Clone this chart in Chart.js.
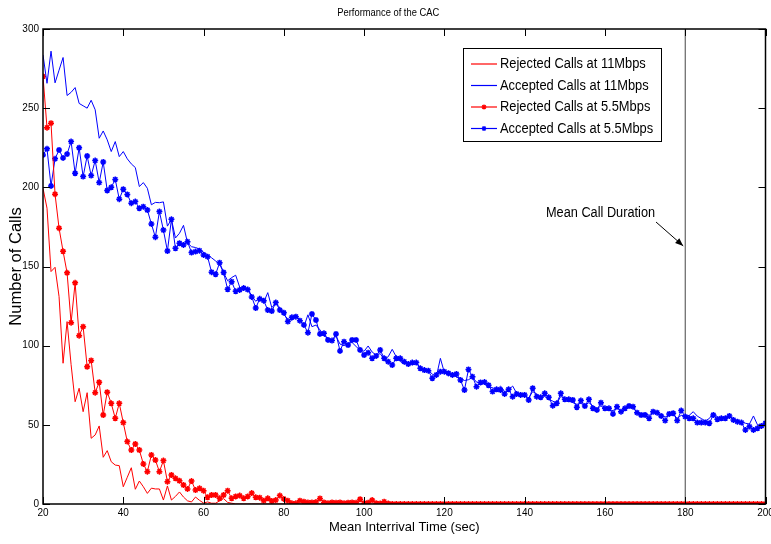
<!DOCTYPE html>
<html>
<head>
<meta charset="utf-8">
<script src="https://cdn.jsdelivr.net/npm/chart.js@4.4.1/dist/chart.umd.min.js"></script>
<style>
html,body{margin:0;padding:0;background:#fff;}
#wrap{width:771px;height:544px;position:relative;}
</style>
</head>
<body>
<div id="wrap"><canvas id="c" width="771" height="544"></canvas></div>
<script>
// ---- DATA ----
const chartTitle = "Performance of the CAC";
const xTitle = "Mean Interrival Time (sec)";
const yTitle = "Number of Calls";
const annotationText = "Mean Call Duration";
const meanCallDuration = 180;
const xTicks = [20, 40, 60, 80, 100, 120, 140, 160, 180, 200];
const yTicks = [0, 50, 100, 150, 200, 250, 300];
const seriesNames = ["Rejected Calls at 11Mbps", "Accepted Calls at 11Mbps", "Rejected Calls at 5.5Mbps", "Accepted Calls at 5.5Mbps"];

// interarrival times 20..200 step 1
const interarrival = Array.from({length: 181}, (_, i) => 20 + i);

const rejected11 = [
199.4,186.8,146.8,149.5,131,88.9,115.2,88,64.6,73.1,
58.3,70.3,41.5,43.6,49.3,29.5,33.7,26.7,24.6,24.2,
10.9,16.9,22.9,9.3,14.5,10.9,6.7,10,9.5,9.5,
2.5,11.4,2.5,4.8,7.6,4.4,2,1.3,4.4,2.3,
0.6,1.3,0.5,0.5,2,3.4,1,0.5,0,0,
0,0,0,0,0,0,0,0,0,0,
0,0,0,0,0,0,0,0,0,0,
0,0,0,0,0,0,0,0,0,0,
0,0,0,0,0,0,0,0,0,0,
0,0,0,0,0,0,0,0,0,0,
0,0,0,0,0,0,0,0,0,0,
0,0,0,0,0,0,0,0,0,0,
0,0,0,0,0,0,0,0,0,0,
0,0,0,0,0,0,0,0,0,0,
0,0,0,0,0,0,0,0,0,0,
0,0,0,0,0,0,0,0,0,0,
0,0,0,0,0,0,0,0,0,0,
0,0,0,0,0,0,0,0,0,0,
0
];

const accepted11 = [
283.6,265.7,286,266,274,282,258,260,263,253,
251.5,250,255,249,231,235.6,230,222.6,228.9,219.4,
222.6,218,214.8,212.5,200.5,203,199.4,189,190.5,190.3,
190.8,175.5,179.8,168,171,176,165,162.5,162,161,
159,157.5,155.5,153.5,151.5,146,141,143,144.5,137,
135.5,136,131.5,128,130.5,127.5,133.5,124,127,124,
119.5,117,116,118.5,116.5,112,119.5,112,113,110,
106,105,103,106,101,100,101.5,102,99.5,97,
96.5,99.8,96,94,95,91.5,93,97.7,93,90,
88.5,89.5,88,88.5,86.5,84,84.5,82,80.5,92,
83,81,82.5,80,79.5,78,78.5,80,77,76.5,
76,74,73.5,72,74.5,71,72,74.5,70,69,
68.5,67,71,69.5,67,68,66,65,63.5,68,
66.5,65,64,63,63.5,62.5,64,62,60,62,
60,59.5,59,60.5,59,60,62,60.5,58,57,
57.5,56,58,57,56,55,56,57,54,56,
55.5,56,58.3,55.5,54,52.5,54,57.5,55,54.5,
55,55,54,52.5,52,51,50.5,55.6,50,50,
51
];

const rejected55 = [
270,237.7,240.5,195.7,174.2,159.6,146,114.5,139.7,106.3,
112,86.7,90.7,70.3,76.9,56.2,70.6,63.6,54.1,63.6,
51.4,39.4,34.1,37.9,34.1,25.3,20.4,31,27.8,20.4,
27.4,14.1,18.3,16.2,14.7,12,9.5,14.5,8.8,9.9,
8.4,4.2,5.7,5.7,3.6,5.7,8.4,3.6,4.8,5.3,
3.6,4.8,6.9,4.2,4,2.1,3.6,1.9,2.5,5.3,
3.2,2.1,0.4,0.4,2.1,1.5,1,1,1.2,3.5,
1,0.5,1,0.8,1,0.5,0.8,1,0.8,3,
0.5,0.8,2.5,0.5,0.3,1.5,0.3,0,0,0,
0,0,0,0,0,0,0,0,0,0,
0,0,0,0,0,0,0,0,0,0,
0,0,0,0,0,0,0,0,0,0,
0,0,0,0,0,0,0,0,0,0,
0,0,0,0,0,0,0,0,0,0,
0,0,0,0,0,0,0,0,0,0,
0,0,0,0,0,0,0,0,0,0,
0,0,0,0,0,0,0,0,0,0,
0,0,0,0,0,0,0,0,0,0,
0
];

const accepted55 = [
220.5,224.3,200.9,218,223.6,218.6,221,228.9,208.9,225,
206.8,219.8,207.4,216.9,203,216,198,200,205,192.5,
198.8,195.5,190,191,186.8,187.8,185.7,176.9,168.5,184.7,
173,159.8,179.8,161.5,164.7,163.6,165.7,158.8,159.4,160,
157.3,156.2,146.4,145.1,152.4,146.2,135.6,140.4,134.3,135.2,
136.4,135.4,130.8,123.8,129.6,128.4,122.5,121.9,127.2,122.5,
120.8,115.2,117.9,118.3,115.8,113.1,108.2,120,116.2,107.4,
107.8,103.6,103.2,107.4,96.7,102.5,100.4,103.6,103.6,97.3,
94.1,95.6,92,93.5,97.3,92,89.9,87.8,92,92,
89.9,88.4,89.3,89.3,85.7,84.6,84.2,79.4,81.5,83.6,
83.6,82.6,81.5,82.1,78.3,72,85,80.4,74.1,76.8,
77,75,71,72.4,72,69.5,72.4,67.8,69.5,68.9,
68.9,65.7,73.1,67.8,67.4,69.9,67.4,62.1,63.6,69.9,
66.1,66.1,65.7,61.1,65.3,61.9,66.1,60.4,59.4,64,
60.4,60.4,56.9,61.5,58.3,60.4,61.9,61.5,57.7,56.2,
56.2,54.1,58.3,57.7,55.6,52.7,56.9,57.3,52.7,59,
55.2,54.1,54.1,51.4,51.4,51.4,51,56.2,53.5,54.1,
54.1,55.6,53.1,52,51.4,46.8,48.9,46.8,47.8,49.3,
51
];

// ---- STYLE ----
const RED = '#ff0000';
const BLUE = '#0000ff';
const FONT = '"Liberation Sans", Arial, sans-serif';

function pts(vals){ return vals.map((v,i)=>({x: interarrival[i], y: v})); }

const datasets = [
  {label: seriesNames[0], data: pts(rejected11), borderColor: RED, backgroundColor: RED, borderWidth: 1, pointRadius: 0, marker: false},
  {label: seriesNames[1], data: pts(accepted11), borderColor: BLUE, backgroundColor: BLUE, borderWidth: 1, pointRadius: 0, marker: false},
  {label: seriesNames[2], data: pts(rejected55), borderColor: RED, backgroundColor: RED, borderWidth: 1, pointRadius: 3, pointStyle: 'star', pointBorderWidth: 1.5, marker: true},
  {label: seriesNames[3], data: pts(accepted55), borderColor: BLUE, backgroundColor: BLUE, borderWidth: 1, pointRadius: 3, pointStyle: 'star', pointBorderWidth: 1.5, marker: true},
  {label: 'mean', data: [{x: meanCallDuration, y: yTicks[0]}, {x: meanCallDuration, y: yTicks[yTicks.length-1]}], borderColor: '#444', borderWidth: 1, pointRadius: 0, marker: false, isRef: true}
];

function narrowText(ctx, text, x, y, size, sx){
  ctx.save();
  ctx.font = size + 'px ' + FONT;
  ctx.translate(x, y);
  ctx.scale(sx, 1);
  ctx.fillText(text, 0, 0);
  ctx.restore();
}

const framePlugin = {
  id: 'frame',
  afterDatasetsDraw(chart){
    const ctx = chart.ctx;
    const a = chart.chartArea;
    const xs = chart.scales.x, ys = chart.scales.y;
    ctx.save();
    ctx.strokeStyle = '#000';
    ctx.lineWidth = 1.5;
    ctx.strokeRect(a.left, a.top, a.right - a.left, a.bottom - a.top);
    ctx.lineWidth = 1;
    const tl = 7;
    xTicks.forEach(v => {
      const px = Math.round(xs.getPixelForValue(v)) + 0.5;
      ctx.beginPath();
      ctx.moveTo(px, a.bottom); ctx.lineTo(px, a.bottom - tl);
      ctx.moveTo(px, a.top); ctx.lineTo(px, a.top + tl);
      ctx.stroke();
    });
    yTicks.forEach(v => {
      const py = Math.round(ys.getPixelForValue(v)) + 0.5;
      ctx.beginPath();
      ctx.moveTo(a.left, py); ctx.lineTo(a.left + tl, py);
      ctx.moveTo(a.right, py); ctx.lineTo(a.right - tl, py);
      ctx.stroke();
    });

    // title
    ctx.fillStyle = '#000';
    ctx.textAlign = 'center';
    ctx.textBaseline = 'middle';
    narrowText(ctx, chartTitle, (a.left + a.right) / 2 - 16, 13, 11, 0.85);

    // annotation with arrow
    const tipX = xs.getPixelForValue(meanCallDuration) - 2;
    const tipY = ys.getPixelForValue(163);
    ctx.textAlign = 'left';
    narrowText(ctx, annotationText, 546, 213, 14, 0.91);
    const sx = 656, sy = 222;
    ctx.beginPath(); ctx.moveTo(sx, sy); ctx.lineTo(tipX, tipY); ctx.stroke();
    const ang = Math.atan2(tipY - sy, tipX - sx);
    const L = 8, W = 3.2;
    ctx.beginPath();
    ctx.moveTo(tipX, tipY);
    ctx.lineTo(tipX - L*Math.cos(ang) + W*Math.sin(ang), tipY - L*Math.sin(ang) - W*Math.cos(ang));
    ctx.lineTo(tipX - L*Math.cos(ang) - W*Math.sin(ang), tipY - L*Math.sin(ang) + W*Math.cos(ang));
    ctx.closePath(); ctx.fill();

    // legend
    const bx = 463.5, by = 48.5, bw = 198, bh = 93;
    ctx.fillStyle = '#fff';
    ctx.fillRect(bx, by, bw, bh);
    ctx.strokeStyle = '#000';
    ctx.lineWidth = 1;
    ctx.strokeRect(bx, by, bw, bh);
    const rows = [64, 85.5, 107, 128.5];
    chart.data.datasets.slice(0, 4).forEach((ds, i) => {
      const y = rows[i];
      ctx.strokeStyle = ds.borderColor;
      ctx.fillStyle = ds.borderColor;
      ctx.lineWidth = 1.2;
      ctx.beginPath(); ctx.moveTo(471, y); ctx.lineTo(497, y); ctx.stroke();
      if (ds.marker) {
        Chart.helpers.drawPoint(ctx, {pointStyle: 'star', radius: 2.5, borderWidth: 1.3, rotation: 0}, 484, y);
      }
      ctx.fillStyle = '#000';
      ctx.textAlign = 'left';
      ctx.textBaseline = 'middle';
      narrowText(ctx, ds.label, 500, y + 0.5, 14, 0.92);
    });
    ctx.restore();
  }
};

new Chart(document.getElementById('c'), {
  type: 'line',
  data: {datasets},
  options: {
    responsive: false,
    animation: false,
    devicePixelRatio: 1,
    layout: {padding: {top: 29, right: 4, left: 0, bottom: 0}},
    plugins: {legend: {display: false}, tooltip: {enabled: false}, title: {display: false}},
    elements: {line: {tension: 0}},
    scales: {
      x: {
        type: 'linear', min: 20, max: 200,
        afterBuildTicks: s => { s.ticks = xTicks.map(v => ({value: v})); },
        afterFit: s => { s.height = 40; s.paddingLeft = 0; s.paddingRight = 0; },
        grid: {display: false, drawTicks: false},
        border: {display: false},
        ticks: {autoSkip: false, maxRotation: 0, padding: 3, color: '#000', font: {family: FONT, size: 10}},
        title: {display: true, text: xTitle, color: '#000', font: {family: FONT, size: 13}, padding: {top: 0, bottom: 9}}
      },
      y: {
        type: 'linear', min: 0, max: 300,
        afterBuildTicks: s => { s.ticks = yTicks.map(v => ({value: v})); },
        afterFit: s => { s.width = 43; s.paddingTop = 0; s.paddingBottom = 0; },
        grid: {display: false, drawTicks: false},
        border: {display: false},
        ticks: {padding: 4, color: '#000', font: {family: FONT, size: 10}},
        title: {display: true, text: yTitle, color: '#000', font: {family: FONT, size: 16.5}, padding: {top: 7, bottom: 0}}
      }
    }
  },
  plugins: [framePlugin]
});
</script>
</body>
</html>
